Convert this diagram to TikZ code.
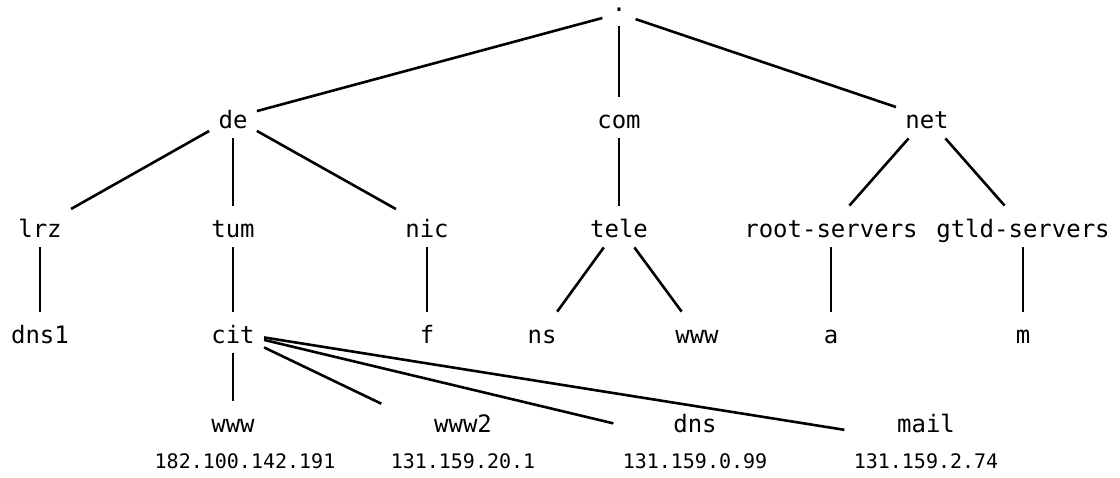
\documentclass[tikz,border=0pt]{standalone}
\usepackage{fontspec}
\setmonofont{DejaVu Sans Mono}
\newcommand\leaftext[2]{\begin{tabular}[t]{@{}c@{}}#1\\\fontsize{10}{12}\selectfont #2\end{tabular}}
\begin{document}
\begin{tikzpicture}[x=0.5pt,y=-0.5pt,
  nd/.style={font=\ttfamily\fontsize{12}{18}\selectfont, text height=13pt, text depth=2.5pt, inner xsep=4.5pt, inner ysep=2.5pt, anchor=base},
  rootnd/.style={nd, text height=2.5pt, text depth=5pt},
  leaf/.style={font=\ttfamily\fontsize{12}{18}\selectfont, inner xsep=4.5pt, inner ysep=2.5pt, anchor=base},
  edge/.style={line width=1.3pt}]
\useasboundingbox (0,0) rectangle (1120,477);
% level 0
\node[rootnd] (root) at (619,11) {.};
% level 1
\node[nd] (de)  at (233,128) {de};
\node[nd] (com) at (619,128) {com};
\node[nd] (net) at (927,128) {net};
% level 2
\node[nd] (lrz)  at (40,237)  {lrz};
\node[nd] (tum)  at (233,237) {tum};
\node[nd] (nic)  at (427,237) {nic};
\node[nd] (tele) at (619,237) {tele};
\node[nd] (rs)   at (831,237) {root-servers};
\node[nd] (gs)   at (1023,237) {gtld-servers};
% level 3
\node[nd] (dnsone) at (40,343)  {dns1};
\node[nd] (cit)    at (233,343) {cit};
\node[nd] (f)      at (427,343) {f};
\node[nd] (ns)     at (542,343) {ns};
\node[nd] (wwwt)   at (697,343) {www};
\node[nd] (a)      at (831,343) {a};
\node[nd] (m)      at (1023,343) {m};
% level 4
\node[leaf] (www)  at (233,432) {\leaftext{www}{\hspace*{12pt}182.100.142.191}};
\node[leaf] (wwwtwo) at (463,432) {\leaftext{www2}{131.159.20.1}};
\node[leaf] (dns)  at (695,432) {\leaftext{dns}{131.159.0.99}};
\node[leaf] (mail) at (926,432) {\leaftext{mail}{131.159.2.74}};
% edges
\draw[edge] (root) -- (de);
\draw[edge] (root) -- (com);
\draw[edge] (root) -- (net);
\draw[edge] (de) -- (lrz);
\draw[edge] (de) -- (tum);
\draw[edge] (de) -- (nic);
\draw[edge] (com) -- (tele);
\draw[edge] (net) -- (rs);
\draw[edge] (net) -- (gs);
\draw[edge] (lrz) -- (dnsone);
\draw[edge] (tum) -- (cit);
\draw[edge] (nic) -- (f);
\draw[edge] (tele) -- (ns);
\draw[edge] (tele) -- (wwwt);
\draw[edge] (rs) -- (a);
\draw[edge] (gs) -- (m);
\draw[edge] (cit) -- (www);
\draw[edge] (cit) -- (wwwtwo);
\draw[edge] (cit) -- (dns);
\draw[edge] (cit) -- (mail);
\end{tikzpicture}
\end{document}
